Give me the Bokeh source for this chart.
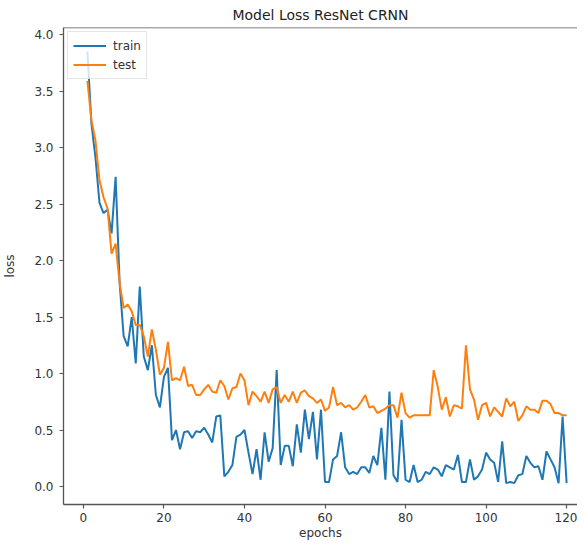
from bokeh.plotting import figure
from bokeh.models import Range1d, FixedTicker, NumeralTickFormatter, Legend, LegendItem, Span
from bokeh.embed import file_html
from bokeh.resources import INLINE

epochs = list(range(1, 121))

train = [3.85, 3.21, 2.91, 2.51, 2.42, 2.45, 2.24, 2.74, 1.80, 1.33,
         1.24, 1.50, 1.09, 1.77, 1.15, 1.03, 1.25, 0.81, 0.70, 0.97,
         1.05, 0.41, 0.50, 0.33, 0.48, 0.49, 0.43, 0.49, 0.48, 0.52,
         0.46, 0.39, 0.62, 0.63, 0.09, 0.13, 0.19, 0.44, 0.46, 0.50,
         0.30, 0.11, 0.33, 0.06, 0.48, 0.22, 0.34, 1.03, 0.19, 0.36,
         0.36, 0.18, 0.55, 0.30, 0.68, 0.42, 0.66, 0.24, 0.68, 0.04,
         0.04, 0.24, 0.27, 0.48, 0.17, 0.11, 0.13, 0.11, 0.17, 0.17,
         0.12, 0.27, 0.19, 0.52, 0.06, 0.84, 0.10, 0.04, 0.59, 0.06,
         0.04, 0.19, 0.04, 0.06, 0.13, 0.11, 0.17, 0.15, 0.09, 0.19,
         0.17, 0.15, 0.28, 0.04, 0.04, 0.24, 0.06, 0.09, 0.15, 0.30,
         0.24, 0.21, 0.04, 0.40, 0.03, 0.04, 0.03, 0.10, 0.11, 0.27,
         0.21, 0.17, 0.18, 0.06, 0.31, 0.24, 0.17, 0.03, 0.62, 0.03]

test = [3.59, 3.24, 3.06, 2.71, 2.56, 2.46, 2.06, 2.15, 1.80, 1.58,
        1.61, 1.55, 1.43, 1.43, 1.33, 1.15, 1.39, 1.21, 0.99, 1.05,
        1.28, 0.94, 0.96, 0.94, 1.06, 0.89, 0.90, 0.81, 0.81, 0.86,
        0.90, 0.84, 0.83, 0.94, 0.89, 0.77, 0.87, 0.88, 1.00, 0.94,
        0.72, 0.84, 0.80, 0.75, 0.84, 0.74, 0.86, 0.88, 0.74, 0.81,
        0.75, 0.84, 0.74, 0.83, 0.85, 0.80, 0.78, 0.74, 0.77, 0.67,
        0.70, 0.88, 0.72, 0.74, 0.70, 0.72, 0.68, 0.70, 0.75, 0.81,
        0.70, 0.71, 0.65, 0.67, 0.69, 0.72, 0.72, 0.61, 0.83, 0.65,
        0.61, 0.63, 0.63, 0.63, 0.63, 0.63, 1.03, 0.88, 0.68, 0.79,
        0.62, 0.72, 0.71, 0.69, 1.25, 0.86, 0.77, 0.59, 0.72, 0.74,
        0.62, 0.70, 0.66, 0.62, 0.78, 0.71, 0.75, 0.58, 0.63, 0.71,
        0.68, 0.68, 0.65, 0.76, 0.76, 0.73, 0.65, 0.65, 0.63, 0.63]

x_ticks = [0, 20, 40, 60, 80, 100, 120]
y_ticks = [0.0, 0.5, 1.0, 1.5, 2.0, 2.5, 3.0, 3.5, 4.0]

FONT = "DejaVu Sans"
TXT = "#333333"
AX = "#555555"

p = figure(width=577, height=542, output_backend="svg", toolbar_location=None,
           x_range=Range1d(-4.94, 122.7), y_range=Range1d(-0.159, 4.062),
           min_border_left=60, min_border_right=0, min_border_top=27,
           min_border_bottom=37, title="Model Loss ResNet CRNN")

p.title.text_font = FONT
p.title.text_font_size = "14px"
p.title.text_font_style = "normal"
p.title.text_color = "#222222"
p.title.align = "center"
p.title.standoff = 9
p.title.offset = 8

p.xgrid.visible = False
p.ygrid.visible = False
p.outline_line_color = None
p.background_fill_color = "white"
p.border_fill_color = "white"

top_spine = Span(location=4.062, dimension="width", line_color=AX, line_width=1.5)
p.add_layout(top_spine)

for ax in (p.xaxis[0], p.yaxis[0]):
    ax.axis_line_color = AX
    ax.axis_line_width = 1.3
    ax.major_tick_line_color = AX
    ax.major_tick_line_width = 1.2
    ax.major_tick_out = 4
    ax.major_tick_in = 0
    ax.minor_tick_line_color = None
    ax.major_label_text_font = FONT
    ax.major_label_text_font_size = "12px"
    ax.major_label_text_color = TXT
    ax.axis_label_text_font = FONT
    ax.axis_label_text_font_size = "12px"
    ax.axis_label_text_font_style = "normal"
    ax.axis_label_text_color = TXT

p.xaxis.ticker = FixedTicker(ticks=x_ticks)
p.yaxis.ticker = FixedTicker(ticks=y_ticks)
p.yaxis.formatter = NumeralTickFormatter(format="0.0")
p.xaxis.axis_label = "epochs"
p.yaxis.axis_label = "loss"
p.xaxis.major_label_standoff = 4
p.xaxis.axis_label_standoff = 1
p.yaxis.major_label_standoff = 6
p.yaxis.axis_label_standoff = 14

r_train = p.line(epochs, train, line_color="#1f77b4", line_width=2)
r_test = p.line(epochs, test, line_color="#ff7f0e", line_width=2)

legend = Legend(items=[LegendItem(label="train", renderers=[r_train]),
                       LegendItem(label="test", renderers=[r_test])],
                location="top_left")
legend.margin = 4
legend.padding = 5
legend.spacing = 2
legend.glyph_width = 33
legend.glyph_height = 17
legend.label_standoff = 7
legend.label_text_font = FONT
legend.label_text_font_size = "12px"
legend.label_text_color = TXT
legend.border_line_color = "#cccccc"
legend.border_line_width = 1
legend.background_fill_alpha = 0.8
p.add_layout(legend)

open("out.html", "w").write(file_html(p, INLINE))
